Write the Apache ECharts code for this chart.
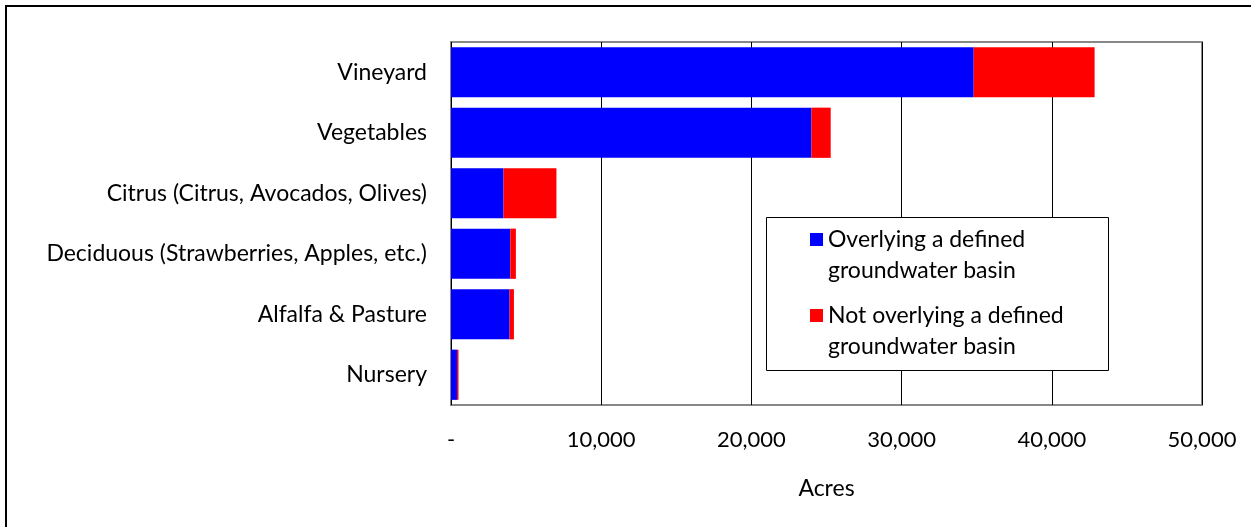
<!DOCTYPE html>
<html>
<head>
<meta charset="utf-8">
<script src="https://cdn.jsdelivr.net/npm/echarts@6/dist/echarts.min.js"></script>
<style>
  html, body { margin: 0; padding: 0; background: #fff; }
  #chart { width: 1251px; height: 527px; }
</style>
</head>
<body>
<div id="chart"></div>
<script>
var crops = ['Vineyard', 'Vegetables', 'Citrus (Citrus, Avocados, Olives)',
  'Deciduous (Strawberries, Apples, etc.)', 'Alfalfa & Pasture', 'Nursery']
var overlying = [34800, 24000, 3500, 3950, 3900, 400]
var notOverlying = [8050, 1280, 3520, 370, 290, 100]
var seriesNames = ['Overlying a defined\ngroundwater basin', 'Not overlying a defined\ngroundwater basin']

var font = 'Lato, "Open Sans", sans-serif'
var mychart = echarts.init(document.getElementById('chart'))
mychart.setOption({
  animation: false,
  textStyle: { fontFamily: font },
  graphic: [{
    type: 'rect',
    shape: { x: 6, y: 6, width: 1260, height: 540 },
    style: { fill: 'none', stroke: '#000', lineWidth: 2 }
  }, {
    type: 'rect',
    z: 5,
    shape: { x: 766.5, y: 217.5, width: 342, height: 153 },
    style: { fill: '#fff', stroke: '#000', lineWidth: 1 }
  }],
  grid: { left: 451, top: 42, right: 49, bottom: 122, show: true, borderColor: '#888', borderWidth: 2 },
  legend: {
    z: 10,
    orient: 'vertical',
    left: 810,
    top: 193,
    padding: 0,
    itemGap: -17,
    icon: 'rect',
    itemWidth: 13,
    itemHeight: 13,
    // leading blank line puts the swatch level with the first line of text
    formatter: function (name) { return '\n' + name },
    textStyle: { fontSize: 23, color: '#000', lineHeight: 31, fontFamily: font },
    data: seriesNames
  },
  xAxis: {
    type: 'value',
    min: 0,
    max: 50000,
    interval: 10000,
    name: 'Acres',
    nameLocation: 'middle',
    nameGap: 72,
    nameTextStyle: { fontSize: 23, color: '#000' },
    axisLine: { show: false },
    axisTick: { show: false },
    axisLabel: {
      fontSize: 22, color: '#000', margin: 24,
      formatter: function (v) { return v === 0 ? '-' : v.toLocaleString('en-US') }
    },
    splitLine: { lineStyle: { color: '#000', width: 1 } }
  },
  yAxis: {
    type: 'category',
    inverse: true,
    data: crops,
    axisLine: { show: false },
    axisTick: { show: false },
    axisLabel: { fontSize: 23, color: '#000', margin: 24 }
  },
  series: [{
    name: seriesNames[0],
    type: 'bar',
    stack: 'acres',
    barCategoryGap: '17%',
    itemStyle: { color: '#0000ff' },
    data: overlying
  }, {
    name: seriesNames[1],
    type: 'bar',
    stack: 'acres',
    itemStyle: { color: '#ff0000' },
    data: notOverlying
  }]
})
</script>
</body>
</html>
